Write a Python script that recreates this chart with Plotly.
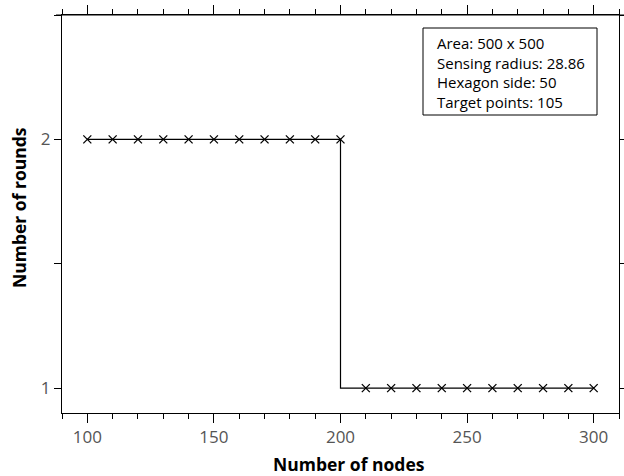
import plotly.graph_objects as go

nodes = [100, 110, 120, 130, 140, 150, 160, 170, 180, 190, 200,
         210, 220, 230, 240, 250, 260, 270, 280, 290, 300]
rounds = [2, 2, 2, 2, 2, 2, 2, 2, 2, 2, 2,
          1, 1, 1, 1, 1, 1, 1, 1, 1, 1]
x_ticks = [100, 150, 200, 250, 300]
y_ticks = [1, 1.5, 2, 2.5]
y_ticktext = ["1", "", "2", ""]
info_lines = ["Area: 500 x 500", "Sensing radius: 28.86", "Hexagon side: 50", "Target points: 105"]
x_title = "Number of nodes"
y_title = "Number of rounds"

FONT = "Open Sans"
L, R, T, B = 62, 5, 15, 63
PW, PH = 624 - L - R, 476 - T - B


def px(x):
    return (x - L) / PW


def py(y):
    return (476 - B - y) / PH


fig = go.Figure()
fig.add_trace(go.Scatter(
    x=nodes, y=rounds, mode="lines+markers", line_shape="vh",
    line=dict(color="black", width=1.2),
    marker=dict(symbol="x-thin", size=8, line=dict(color="black", width=1.3)),
    showlegend=False,
))

fig.update_layout(
    width=624, height=476,
    margin=dict(l=L, r=R, t=T, b=B),
    plot_bgcolor="white", paper_bgcolor="white",
    font=dict(family=FONT, size=16, color="#555555"),
    xaxis=dict(
        range=[90, 310], tickvals=x_ticks, ticks="outside", ticklen=9, tickwidth=1,
        tickcolor="black", showline=True, linecolor="black", linewidth=1,
        mirror="allticks", showgrid=False, zeroline=False, automargin=False,
        minor=dict(dtick=10, tick0=90, ticks="outside", ticklen=5, tickcolor="black", showgrid=False),
        tickfont=dict(size=17, color="#555555"),
    ),
    yaxis=dict(
        range=[0.9, 2.5], tickvals=y_ticks, ticktext=y_ticktext, ticks="outside", ticklen=7,
        tickcolor="black", showline=True, linecolor="black", linewidth=1,
        mirror="allticks", showgrid=False, zeroline=False, automargin=False,
        tickfont=dict(size=17, color="#555555"),
    ),
)

# top frame line extends slightly past the plot area on both sides
fig.add_shape(type="line", xref="paper", yref="paper",
              x0=px(56), x1=px(624), y0=1, y1=1,
              line=dict(color="black", width=1))

fig.add_annotation(
    xref="paper", yref="paper", x=px(348.5), y=py(464), xanchor="center", yanchor="middle",
    text="<b>" + x_title + "</b>", showarrow=False,
    font=dict(family=FONT, size=17.5, color="black"),
)
fig.add_annotation(
    xref="paper", yref="paper", x=px(19), y=py(208), xanchor="center", yanchor="middle",
    text="<b>" + y_title + "</b>", showarrow=False, textangle=-90,
    font=dict(family=FONT, size=17.5, color="black"),
)

fig.add_shape(type="rect", xref="paper", yref="paper",
              x0=px(423), x1=px(597), y0=py(115), y1=py(28),
              line=dict(color="black", width=1), fillcolor="white", layer="above")
fig.add_annotation(
    xref="paper", yref="paper", x=px(435), y=py(72), xanchor="left", yanchor="middle",
    text="<br>".join(info_lines), showarrow=False, align="left",
    font=dict(family=FONT, size=15, color="black"),
)

fig.write_html("out.html", config={"displayModeBar": False},
               post_script="document.body.style.margin='0';")
